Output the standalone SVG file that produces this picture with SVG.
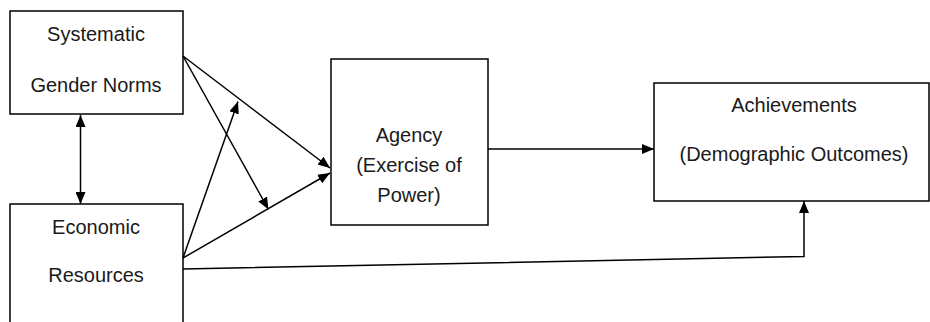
<svg xmlns="http://www.w3.org/2000/svg" width="930" height="322" viewBox="0 0 930 322">
<defs>
<marker id="ah" markerUnits="userSpaceOnUse" markerWidth="12" markerHeight="10" viewBox="0 0 12 10" refX="12" refY="5" orient="auto-start-reverse">
<path d="M0,0 L12,5 L0,10 Z" fill="#000"/>
</marker>
<style>
.box{fill:#fff;stroke:#000;stroke-width:1.5}
.lbl{font-family:"Liberation Sans",Arial,sans-serif;font-size:20px;fill:#1a1a1a;text-anchor:middle}
.con{fill:none;stroke:#000;stroke-width:1.5}
</style>
</defs>
<rect width="930" height="322" fill="#fff"/>
<g id="node-gender-norms">
<rect class="box" x="10" y="11" width="173" height="103"/>
<text class="lbl" x="96" y="40.5">Systematic</text>
<text class="lbl" x="96" y="91.5">Gender Norms</text>
</g>
<g id="node-economic-resources">
<rect class="box" x="10" y="204" width="173" height="130"/>
<text class="lbl" x="96" y="234">Economic</text>
<text class="lbl" x="96" y="281.5">Resources</text>
</g>
<g id="node-agency">
<rect class="box" x="331" y="59" width="157" height="166"/>
<text class="lbl" x="409" y="142">Agency</text>
<text class="lbl" x="409" y="171.5">(Exercise of</text>
<text class="lbl" x="409" y="201.5">Power)</text>
</g>
<g id="node-achievements">
<rect class="box" x="654" y="83" width="275" height="118"/>
<text class="lbl" x="794" y="112">Achievements</text>
<text class="lbl" x="794" y="160.5">(Demographic Outcomes)</text>
</g>
<g id="connectors">
<line class="con" x1="80.5" y1="115" x2="80.5" y2="204" marker-start="url(#ah)" marker-end="url(#ah)"/>
<line class="con" x1="183" y1="56" x2="330" y2="168" marker-end="url(#ah)"/>
<line class="con" x1="183" y1="56" x2="268.5" y2="209.5" marker-end="url(#ah)"/>
<line class="con" x1="183" y1="258" x2="238" y2="101.5" marker-end="url(#ah)"/>
<line class="con" x1="183" y1="258" x2="330" y2="173" marker-end="url(#ah)"/>
<line class="con" x1="488" y1="149" x2="654" y2="149" marker-end="url(#ah)"/>
<polyline class="con" points="183,269 804,256.5 804,201" marker-end="url(#ah)"/>
</g>
</svg>
